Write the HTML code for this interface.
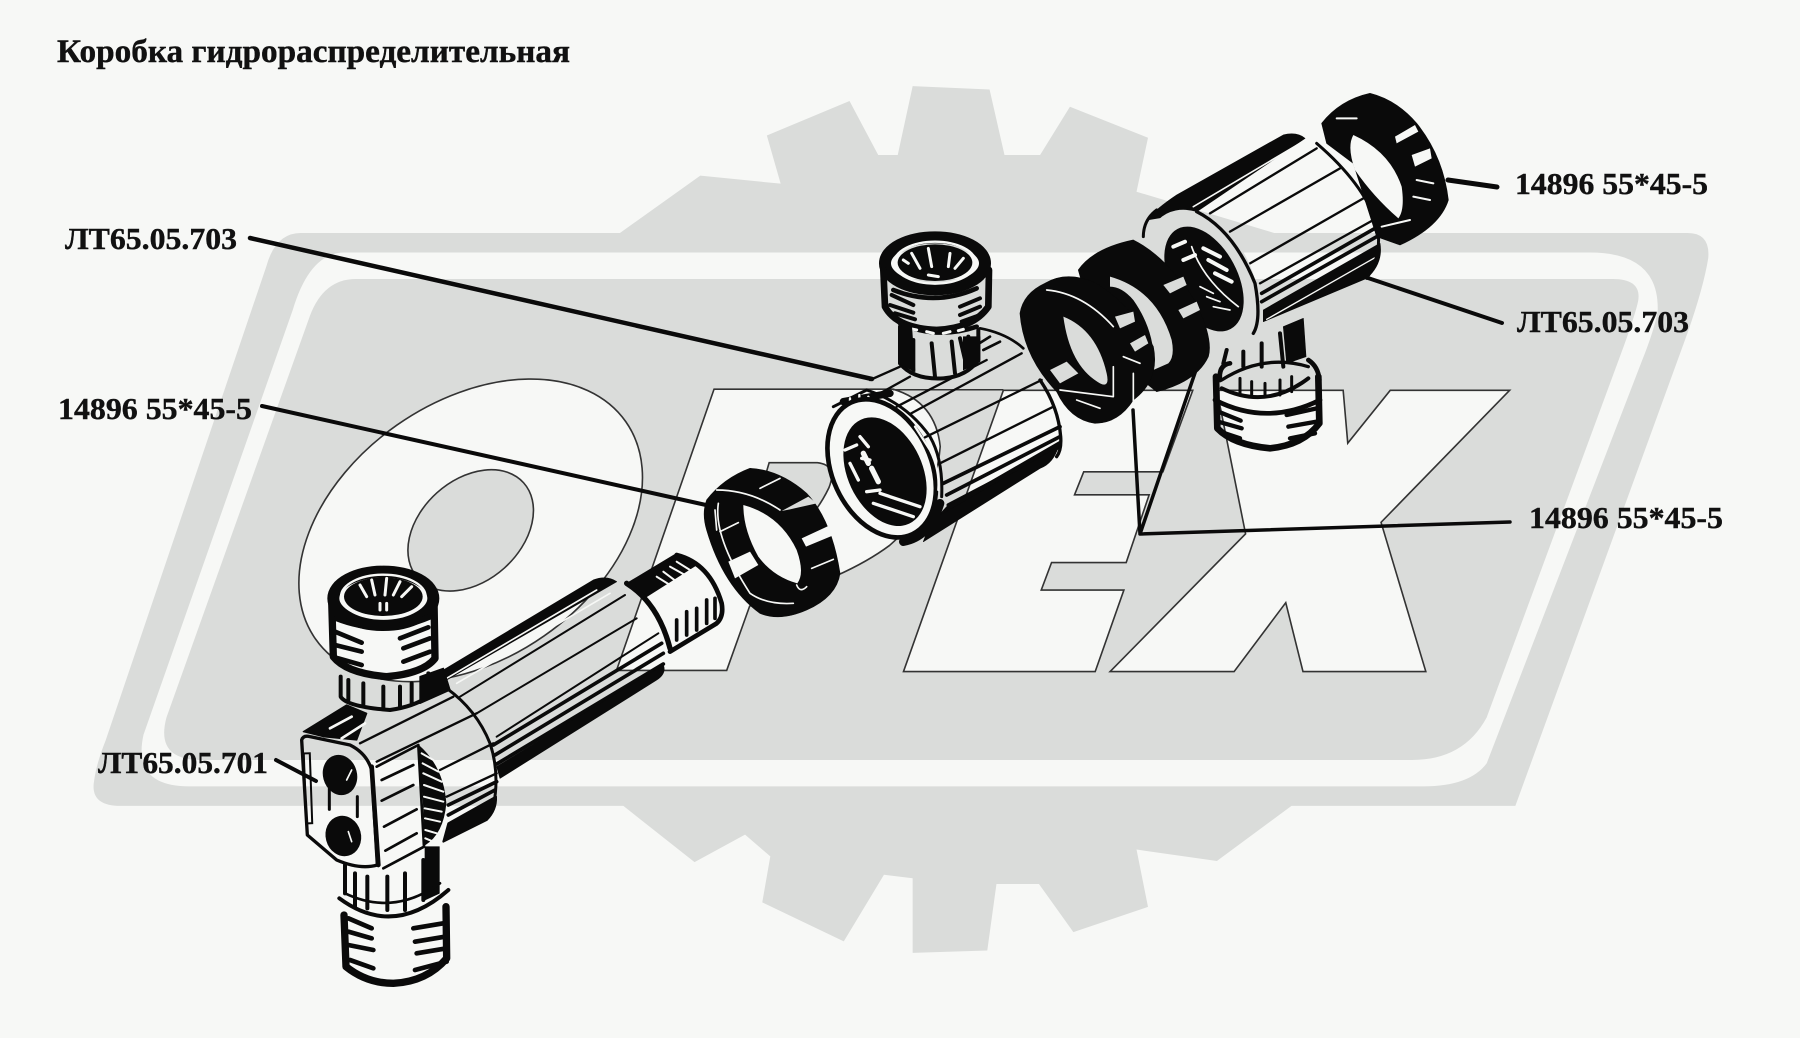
<!DOCTYPE html>
<html><head><meta charset="utf-8"><style>
html,body{margin:0;padding:0;background:#f7f8f6}
svg{display:block}
text{font-family:"Liberation Serif",serif;font-weight:bold;fill:#111;stroke:#111;stroke-width:.4}
.k{fill:none;stroke:#0a0a0a;stroke-linecap:round;stroke-linejoin:round}
.b{fill:#0a0a0a;stroke:#0a0a0a;stroke-linejoin:round}
.w{fill:none;stroke:#f7f8f6;stroke-linecap:round}
.o{stroke:#333;stroke-width:1.4}
</style></head><body>
<svg width="1800" height="1038" viewBox="0 0 1800 1038" xmlns="http://www.w3.org/2000/svg">
<rect width="1800" height="1038" fill="#f7f8f6"/>
<!-- logo -->
<g transform="scale(1.148)">
<polygon fill="#dadcda" points="540,203 610,153 680,160 668,118 740,88 765,135 782,135 795,75 862,78 875,135 906,135 932,93 1000,120 990,167 1110,203 1125,702 1060,750 990,740 1000,790 935,812 905,770 868,770 860,828 795,830 795,765 770,762 735,820 664,786 671,746 649,727 605,751 543,702"/>
<path fill="#dadcda" d="M262 203H1470Q1490 203 1488 225Q1484 250 1470 290L1320 702H105Q78 702 82 680Q84 665 92 645L232 232Q240 203 262 203Z"/>
<path fill="#f7f8f6" d="M300 220H1385Q1445 220 1444 270Q1442 285 1430 315L1295 665Q1280 685 1240 685H165Q115 685 125 640L255 270Q270 220 300 220Z"/>
<path fill="#dadcda" d="M310 243H1405Q1430 243 1427 262Q1425 272 1415 300L1295 625Q1275 662 1230 662H175Q135 662 145 625L270 275Q282 243 310 243Z"/>
<!-- OPEX letters -->
<g transform="rotate(-35 410 462)"><ellipse class="o" cx="410" cy="462" rx="165" ry="112" fill="#f7f8f6"/></g>
<g transform="rotate(-42 410 462)"><ellipse class="o" cx="410" cy="462" rx="62" ry="44" fill="#dadcda"/></g>
<path class="o" fill="#f7f8f6" d="M622 339H778Q815 350 819 389Q815 440 775 475Q735 505 653 528L633 584H537Z"/>
<path class="o" fill="#dadcda" d="M670 403H712Q730 405 722 425Q710 450 690 465Q675 475 648 478Z"/>
<path class="o" fill="none" d="M778 339.5H874"/>
<path class="o" fill="#f7f8f6" d="M874 340H1039L1013 411H944L936 431H1001L981 490H916L907 514H979L954 585H787Z"/>
<path class="o" fill="#f7f8f6" d="M1060 340H1170L1174 386L1211 340H1315L1203 455L1242 585H1135L1120 525L1075 585H967L1085 465Z"/>
</g>
<!-- leaders -->
<g class="k" stroke-width="4">
<path d="M250 238L872 379" stroke-width="4.5"/>
<path d="M262 406L706 505"/>
<path d="M1497 187L1448 180" stroke-width="5"/>
<path d="M1502 323L1368 278"/>
<path d="M1510 522L1140 534L1133 410M1140 534L1197 367" stroke-width="3.5"/>
<path d="M276 760L316 781"/>
</g>
<!-- lower-left assembly, coords 3x -->
<g transform="translate(280 540) scale(.33333)">
<!-- tail -->
<path class="b" stroke-width="2" d="M1040 130L1190 40Q1240 60 1250 75L1100 170Z"/>
<path class="w" stroke-width="6" d="M1130 110L1170 135M1150 95L1190 125M1170 80L1215 105M1190 65L1230 90"/>
<path class="k" stroke-width="14" d="M1190 45Q1290 70 1325 190Q1332 230 1310 250L1170 335"/>
<path class="k" stroke-width="16" d="M1040 130Q1135 190 1170 325"/>
<path class="k" stroke-width="11" d="M1190 240V300M1220 215V285M1250 205V270M1280 180V250M1305 175V235"/>
<!-- body -->
<path class="b" stroke-width="2" d="M465 405L940 120Q980 105 1010 125L500 420Z"/>
<path class="w" stroke-width="5" d="M500 415L950 150M530 430L990 160"/>
<path class="k" stroke-width="6" d="M540 470L1035 165M590 520L1070 235M650 590L1135 280"/>
<path class="k" stroke-width="11" d="M640 615L1145 310M645 645L1150 340M650 672L1150 372"/>
<path class="b" stroke-width="2" d="M650 680L1150 375Q1160 400 1130 420L660 715Z"/>
<path class="k" stroke-width="9" d="M500 445Q590 510 630 610Q660 700 640 800"/>
<path class="k" stroke-width="7" d="M480 690L640 610M500 770L650 700"/>
<path class="k" stroke-width="11" d="M505 795L650 725M505 825L645 750"/>
<path class="b" d="M490 905L620 840Q650 810 648 770L505 850Z" stroke-width="6"/>
<!-- top fitting -->
<ellipse class="k" cx="310" cy="175" rx="150" ry="80" stroke-width="36"/>
<ellipse cx="310" cy="170" rx="118" ry="58" fill="#0a0a0a"/>
<ellipse class="w" cx="310" cy="170" rx="127" ry="66" stroke-width="7"/>
<path class="w" stroke-width="9" d="M240 135L260 170M275 120L285 165M320 115L315 165M360 125L340 165M395 140L365 170M300 190V210M320 190V210"/>
<path class="k" stroke-width="22" d="M155 180L160 350Q200 400 320 410Q430 400 465 355L462 180"/>
<path class="k" stroke-width="18" d="M170 235Q310 290 450 230"/>
<path class="k" stroke-width="14" d="M165 275L245 308M165 315L245 335M175 355L245 375M360 295L445 262M370 325L450 295M370 365L450 335"/>
<!-- neck -->
<path class="k" stroke-width="12" d="M182 410V470Q200 500 330 510Q400 500 445 470V400M205 420V480M250 430V495M310 440V505M360 440V500M395 430V490M425 420V470"/>
<path class="b" d="M420 410L490 385 510 450 420 490Z" stroke-width="4"/>
<!-- block top -->
<path class="b" d="M70 575L200 495 260 520 230 600 130 590Z" stroke-width="4"/>
<path class="w" stroke-width="8" d="M150 565L215 530M185 595L255 550"/>
<path class="k" stroke-width="7" d="M240 610L520 470M290 665L590 520"/>
<!-- block front -->
<path class="k" stroke-width="10" d="M65 600Q70 585 90 590L210 615Q260 640 275 690L292 975Q240 990 170 960L82 885L65 600Z"/>
<path class="k" stroke-width="14" d="M275 680L295 975"/>
<rect x="75" y="640" width="18" height="210" fill="none" stroke="#0a0a0a" stroke-width="6" transform="rotate(-2 85 745)"/>
<ellipse class="b" cx="180" cy="705" rx="50" ry="60" transform="rotate(-15 180 705)" stroke-width="2"/>
<ellipse class="b" cx="190" cy="888" rx="52" ry="60" transform="rotate(-15 190 888)" stroke-width="2"/>
<path class="w" stroke-width="5" d="M200 720L215 690M205 875L215 905"/>
<path class="k" stroke-width="9" d="M148 745V808M232 770V830"/>
<!-- right face -->
<path class="k" stroke-width="8" d="M290 680L415 615L432 920L310 985"/>
<path class="k" stroke-width="8" d="M305 720L400 675M305 782L400 735M312 860L410 808M316 932L410 880"/>
<path class="b" d="M415 615Q490 680 498 790Q490 880 435 915L430 790Z" stroke-width="2"/>
<path class="w" stroke-width="6" d="M425 640L460 660M428 670L475 695M430 700L485 725M432 735L490 755M432 770L490 785M434 805L485 815M435 835L480 845M436 870L470 880M436 895L460 905"/>
<!-- lower fitting -->
<path class="k" stroke-width="12" d="M195 975L195 1060M225 1000V1100M262 1010V1105M322 1010V1110M375 1000V1110M430 960V1080"/>
<path class="b" d="M435 920H478V1060L435 1080Z" stroke-width="2"/>
<path class="k" stroke-width="12" d="M178 1075Q340 1195 505 1050"/>
<path class="k" stroke-width="8" d="M195 1060Q340 1130 480 1030"/>
<path class="k" stroke-width="22" d="M192 1125L198 1280Q260 1330 340 1330Q440 1325 500 1255L498 1100"/>
<path class="k" stroke-width="14" d="M205 1135L275 1165M205 1175L275 1195M205 1215L280 1230M210 1260L280 1285M400 1165L490 1150M405 1205L495 1190M410 1240L500 1225M405 1290L500 1265"/>
</g>
<!-- middle fitting + body -->
<g transform="translate(800 220) scale(.33333)">
<path class="k" stroke-width="8" d="M540 325Q620 340 670 385M530 375L570 350M550 390L600 365"/>
<path class="k" stroke-width="7" d="M210 480L300 440M240 520L330 470M290 560L560 420M330 582L665 400"/>
<path class="k" stroke-width="7" d="M375 652L725 480M420 730L760 560"/>
<path class="k" stroke-width="11" d="M430 790L780 620M440 825L780 650M445 855L780 680"/>
<path class="b" stroke-width="2" d="M395 910L770 690Q785 680 785 660L440 860Z"/>
<path class="b" stroke-width="2" d="M395 900L775 680Q760 730 720 745L370 965Z"/>
<path class="k" stroke-width="10" d="M720 480Q775 560 782 650Q785 690 770 710"/>
<!-- end hatch -->
<path class="k" stroke-width="9" d="M100 560L200 510M200 510Q320 550 390 650Q430 720 425 830"/>
<path class="k" stroke-width="22" d="M130 545L270 520"/>
<path class="w" stroke-width="7" d="M150 535V555M178 525V550M205 530L215 555M270 555L300 575M295 585L320 605"/>
<!-- face -->
<ellipse cx="245" cy="745" rx="148" ry="218" transform="rotate(-25 245 745)" fill="#f7f8f6" stroke="#0a0a0a" stroke-width="14"/>
<path class="k" stroke-width="26" d="M310 965Q390 950 420 850"/>
<ellipse cx="255" cy="755" rx="112" ry="172" transform="rotate(-25 255 755)" fill="#0a0a0a"/>
<path class="w" stroke-width="7" d="M345 620L390 690Q420 750 415 810"/>
<path class="w" stroke-width="10" d="M180 650L205 680M185 715L210 720M150 730L175 780M200 815L240 810M135 690L170 675M240 820L360 860M220 850L340 890"/>
<path class="w" stroke-width="16" d="M215 745L235 785M190 700L205 730"/>
<!-- fitting -->
<ellipse class="k" cx="405" cy="130" rx="150" ry="78" stroke-width="36"/>
<ellipse cx="405" cy="128" rx="112" ry="55" fill="#0a0a0a"/>
<ellipse class="w" cx="405" cy="128" rx="122" ry="63" stroke-width="7"/>
<path class="w" stroke-width="9" d="M335 100L360 145M385 85L395 140M450 100L445 140M490 115L465 145M385 165L415 170M310 120L325 130"/>
<path class="k" stroke-width="20" d="M250 150L255 260Q290 325 410 330Q520 325 565 260L567 150"/>
<path class="k" stroke-width="14" d="M280 210Q405 260 530 205"/>
<path class="k" stroke-width="12" d="M275 225L340 255M270 255L340 278M285 280L345 298M480 260L540 235M480 285L540 260M485 305L540 285"/>
<path class="k" stroke-width="14" d="M300 310Q410 360 530 320"/>
<path class="w" stroke-width="9" d="M325 325L350 330M380 335L400 340M430 340L450 335M475 332L490 328"/>
<path class="k" stroke-width="12" d="M300 320V430Q340 480 430 475Q500 470 535 420V330M340 360V450M395 370L405 470M455 365L465 460M480 355L500 440M505 350V440"/>
<path class="b" d="M295 320H335L345 455 295 430ZM490 350H540V425L490 450Z" stroke-width="2"/>
</g>
<!-- bearing ring left -->
<g transform="translate(680 450) scale(.33333)">
<path class="b" stroke-width="2" d="M80 150Q130 85 210 55Q300 60 380 130Q455 210 480 370Q470 440 380 480Q300 515 240 490Q130 410 80 240Q65 190 80 150Z"/>
<path fill="#f7f8f6" d="M190 165Q300 195 350 300Q375 370 352 400Q280 380 235 320Q190 240 190 165Z"/>
<path fill="#dadcda" d="M305 183L385 140 410 160 330 178Z"/>
<path fill="#f7f8f6" d="M365 265L445 228 455 258 378 290ZM145 335L210 305 235 345 165 385Z"/>
<path class="w" stroke-width="5" d="M110 120Q210 120 300 180M105 180L110 240M115 160Q100 260 210 430Q260 465 340 460M240 115L300 85M120 245L175 218M395 355L460 328M350 405Q360 430 380 410"/>
</g>
<!-- rings and right assembly -->
<g transform="translate(1000 80) scale(.33333)">
<!-- top-right ring -->
<path class="b" stroke-width="2" d="M965 130Q1020 60 1110 40Q1190 60 1250 130Q1330 230 1345 360Q1320 440 1200 495L1130 470L1060 250L980 190Z"/>
<path fill="#f7f8f6" d="M1060 165Q1170 215 1205 320Q1215 390 1195 415Q1120 350 1065 270Q1040 200 1060 165Z"/>
<path fill="#f7f8f6" d="M1185 170L1245 135 1255 155 1190 190ZM1235 225L1290 205 1295 235 1245 260Z"/>
<path class="w" stroke-width="6" d="M1010 115H1070M1250 300L1300 310M1240 350L1290 360M1145 440L1230 420"/>
<!-- body -->
<path class="b" stroke-width="2" d="M440 420Q470 385 530 345L850 165Q890 155 915 175L590 395Z"/>
<path class="w" stroke-width="5" d="M580 380L900 190"/>
<path class="k" stroke-width="9" d="M430 470Q430 420 470 390"/>
<path class="k" stroke-width="7" d="M630 400L950 205M690 455L1020 265M750 550L1090 355M780 610L1120 420"/>
<path class="k" stroke-width="11" d="M785 665L1130 470M785 640L1125 445"/>
<path class="b" stroke-width="2" d="M790 725L1100 595Q1150 550 1140 490L790 690Z"/>
<path class="w" stroke-width="4" d="M800 718L1130 530"/>
<path class="k" stroke-width="9" d="M950 190Q1090 310 1130 430Q1150 520 1100 595"/>
<!-- end annulus -->
<ellipse cx="605" cy="600" rx="150" ry="225" transform="rotate(-28 605 600)" fill="#dadcda"/>
<path class="k" stroke-width="10" d="M590 395Q700 450 765 610Q785 720 760 760"/>
<ellipse cx="612" cy="597" rx="100" ry="170" transform="rotate(-28 612 597)" fill="#0a0a0a"/>
<path class="w" stroke-width="12" d="M610 505L660 530M625 540L680 570M645 580L695 605M520 500L555 485M550 540L585 525"/>
<path class="w" stroke-width="5" d="M575 500Q610 600 715 680M600 620L640 640M620 650L660 665M640 680L690 690"/>
<!-- lower fitting -->
<path class="b" d="M850 740L910 715 918 830 860 850Z" stroke-width="2"/>
<path class="k" stroke-width="12" d="M670 850L680 810M730 815V860M785 790V860M840 760L850 860"/>
<path class="k" stroke-width="14" d="M660 900Q655 855 690 850M925 840Q955 860 958 900"/>
<path class="k" stroke-width="10" d="M665 900Q790 820 925 860"/>
<path class="k" stroke-width="12" d="M665 925Q800 990 925 895"/>
<path class="k" stroke-width="9" d="M720 895V945M755 905V950M795 910V950M840 900V945M875 890V935"/>
<path class="k" stroke-width="20" d="M648 890L652 1045Q700 1095 810 1105Q910 1095 958 1030L955 890"/>
<path class="k" stroke-width="14" d="M645 960Q800 1040 960 960"/>
<path class="k" stroke-width="13" d="M655 995L722 1022M655 1025L725 1045M660 1055L720 1075M860 1005L950 985M865 1040L950 1025M870 1075L945 1060"/>
<!-- ring B -->
<path class="b" stroke-width="2" d="M235 570Q280 505 400 480Q500 530 590 670Q640 780 625 830Q590 905 470 935L300 800Z"/>
<path fill="#dadcda" d="M330 590Q470 630 515 780Q525 830 505 850L460 870Q470 760 400 660Q365 620 330 620Z"/>
<path fill="#dadcda" d="M490 615L550 590 560 615 510 640ZM535 690L590 665 600 690 550 715Z"/>
<!-- ring A -->
<path class="b" stroke-width="2" d="M60 700Q70 640 135 610Q200 570 290 610Q400 680 460 800Q480 900 400 960Q355 1030 285 1030Q210 1020 170 935Q70 830 60 700Z"/>
<path fill="#dadcda" d="M190 710Q290 750 320 880Q330 925 300 910Q210 860 190 710Z"/>
<path fill="#dadcda" d="M345 710L400 695 405 725 360 745ZM390 790L435 765 445 790 405 815ZM150 870L200 845 235 880 180 910Z"/>
<path class="w" stroke-width="5" d="M140 630Q250 640 340 740M370 830L420 850M180 930L340 950M230 960L300 985M340 860V950M400 880V970"/>
</g>
<!-- text -->
<text x="57" y="62" font-size="33" textLength="513" lengthAdjust="spacingAndGlyphs">Коробка гидрораспределительная</text>
<text x="65" y="249" font-size="31" textLength="172" lengthAdjust="spacingAndGlyphs">ЛТ65.05.703</text>
<text x="58" y="419" font-size="31" textLength="194" lengthAdjust="spacingAndGlyphs">14896 55*45-5</text>
<text x="98" y="773" font-size="31" textLength="170" lengthAdjust="spacingAndGlyphs">ЛТ65.05.701</text>
<text x="1515" y="194" font-size="31" textLength="193" lengthAdjust="spacingAndGlyphs">14896 55*45-5</text>
<text x="1517" y="332" font-size="31" textLength="172" lengthAdjust="spacingAndGlyphs">ЛТ65.05.703</text>
<text x="1529" y="528" font-size="31" textLength="194" lengthAdjust="spacingAndGlyphs">14896 55*45-5</text>
</svg>
</body></html>
